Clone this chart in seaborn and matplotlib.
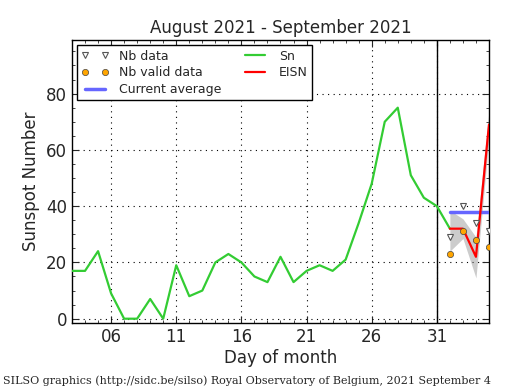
import numpy as np
import pandas as pd
import matplotlib
matplotlib.use("Agg")
import matplotlib.pyplot as plt
import seaborn as sns
from matplotlib.ticker import MultipleLocator, FixedLocator

# daily sunspot number, day index (31 = Aug 31, 32.. = Sep 1..)
sn_days = list(range(3, 33))
sn_vals = [17, 17, 24, 9, 0, 0, 7, 0, 19, 8, 10, 20, 23, 20, 15, 13, 22, 13,
           17, 19, 17, 21, 34, 48, 70, 75, 51, 43, 40, 32]

eisn_days = [32, 33, 34, 35]
eisn_vals = [32, 32, 22, 69]
eisn_low = [24, 28.5, 14.5, 64]
eisn_high = [38.5, 35.5, 29, 74]

nb_data = [29, 40, 34, 31]
nb_valid = [23, 31, 28, 25.5]
current_avg = 38

sn_df = pd.DataFrame({"day": sn_days, "Sn": sn_vals})
ei_df = pd.DataFrame({"day": eisn_days, "EISN": eisn_vals,
                      "nb": nb_data, "valid": nb_valid})

sns.set_style("ticks")
plt.rcParams["font.family"] = ["DejaVu Sans"]
plt.rcParams["xtick.direction"] = "in"
plt.rcParams["ytick.direction"] = "in"

fig = plt.figure(figsize=(5.15, 3.9), dpi=100)
ax = fig.add_axes([0.1398, 0.172, 0.8097, 0.725])

ax.fill_between(eisn_days, eisn_low, eisn_high, color="gray", alpha=0.4, lw=0)
ax.plot([32, 35], [current_avg, current_avg], color="#6666ff", lw=2.5,
        label="Current average", zorder=3)
sns.lineplot(data=sn_df, x="day", y="Sn", color="#33cc33", lw=1.6,
             label="Sn", ax=ax, zorder=4)
sns.lineplot(data=ei_df, x="day", y="EISN", color="red", lw=1.6,
             label="EISN", ax=ax, zorder=5)
ax.plot(ei_df["day"], ei_df["nb"], ls="none", marker="v", ms=4.5,
        mfc="white", mec="#555555", mew=0.8, label="Nb data", zorder=6)
ax.plot(ei_df["day"], ei_df["valid"], ls="none", marker="o", ms=4.5,
        mfc="orange", mec="#444444", mew=0.5, label="Nb valid data", zorder=6)

ax.axvline(31, color="black", lw=1.0, zorder=2)

ax.set_xlim(3, 35)
ax.set_ylim(-1.5, 99)
ax.xaxis.set_major_locator(FixedLocator([6, 11, 16, 21, 26, 31]))
ax.set_xticklabels(["06", "11", "16", "21", "26", "31"])
ax.xaxis.set_minor_locator(MultipleLocator(1))
ax.yaxis.set_major_locator(MultipleLocator(20))
ax.yaxis.set_minor_locator(MultipleLocator(5))
ax.tick_params(which="both", top=True, right=True, labelsize=12)
ax.tick_params(which="major", length=5, width=0.8)
ax.tick_params(which="minor", length=2.5, width=0.6)
ax.grid(True, which="major", color="black", ls=(0, (1, 4)), lw=0.8)
for s in ax.spines.values():
    s.set_linewidth(1.0)
    s.set_color("black")

ax.set_title("August 2021 - September 2021", fontsize=12, pad=5)
ax.set_xlabel("Day of month", fontsize=12, labelpad=2)
ax.set_ylabel("Sunspot Number", fontsize=12)

h, l = ax.get_legend_handles_labels()
order = ["Nb data", "Nb valid data", "Current average", "Sn", "EISN"]
hd = dict(zip(l, h))
leg = ax.legend([hd[k] for k in order], order, loc="upper left", ncol=2,
                fontsize=9, numpoints=2, fancybox=False, framealpha=1,
                edgecolor="black", borderaxespad=0.4, handlelength=2.2,
                columnspacing=1.6, labelspacing=0.3, borderpad=0.35)
leg.get_frame().set_linewidth(1.0)

fig.text(0.005, 0.015, "SILSO graphics (http://sidc.be/silso) Royal Observatory of Belgium, 2021 September 4",
         fontsize=8, family="DejaVu Serif")

fig.savefig("out.png", dpi=100)
